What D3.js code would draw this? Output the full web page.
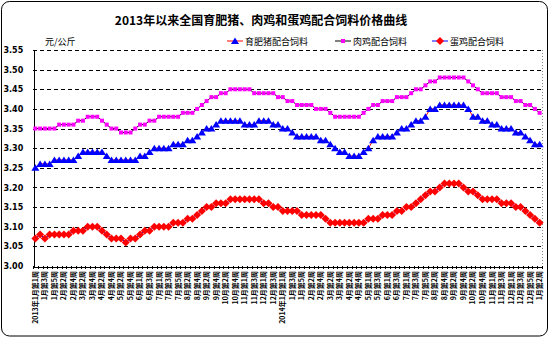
<!DOCTYPE html>
<html><head><meta charset="utf-8">
<script src="https://cdn.jsdelivr.net/npm/d3@7"></script>
<style>body{margin:0;background:#fff}svg{display:block}</style>
</head><body>
<svg id="chart" width="550" height="341"></svg>
<script>
// Weekly calendar: [year, month, number of weeks reported in that month]
const weekCalendar = [
  [2013,1,5],[2013,2,4],[2013,3,4],[2013,4,4],[2013,5,5],[2013,6,4],
  [2013,7,5],[2013,8,4],[2013,9,4],[2013,10,5],[2013,11,4],[2013,12,4],
  [2014,1,5],[2014,2,4],[2014,3,4],[2014,4,5],[2014,5,4],[2014,6,4],
  [2014,7,5],[2014,8,4],[2014,9,4],[2014,10,5],[2014,11,4],[2014,12,5],
  [2015,1,2]
];

const yTicks = [3.00,3.05,3.10,3.15,3.20,3.25,3.30,3.35,3.40,3.45,3.50,3.55];

// 育肥猪配合饲料 (元/公斤)
const pigFeed = [
  3.25,3.26,3.26,3.26,3.27,3.27,3.27,3.27,3.27,3.28,
  3.29,3.29,3.29,3.29,3.29,3.28,3.27,3.27,3.27,3.27,
  3.27,3.27,3.28,3.28,3.29,3.30,3.30,3.30,3.30,3.31,
  3.31,3.31,3.32,3.32,3.33,3.34,3.35,3.35,3.36,3.37,
  3.37,3.37,3.37,3.37,3.36,3.36,3.36,3.37,3.37,3.37,
  3.36,3.36,3.35,3.35,3.34,3.33,3.33,3.33,3.33,3.33,
  3.32,3.32,3.31,3.30,3.29,3.29,3.28,3.28,3.28,3.29,
  3.30,3.32,3.33,3.33,3.33,3.33,3.34,3.35,3.35,3.36,
  3.37,3.37,3.38,3.40,3.40,3.41,3.41,3.41,3.41,3.41,
  3.41,3.40,3.38,3.38,3.37,3.37,3.36,3.36,3.35,3.35,
  3.35,3.34,3.34,3.33,3.32,3.31,3.31
];

// 肉鸡配合饲料 (元/公斤)
const broilerFeed = [
  3.35,3.35,3.35,3.35,3.35,3.36,3.36,3.36,3.36,3.37,
  3.37,3.38,3.38,3.38,3.37,3.36,3.35,3.35,3.34,3.34,
  3.34,3.35,3.36,3.36,3.37,3.37,3.38,3.38,3.38,3.38,
  3.38,3.39,3.39,3.39,3.40,3.41,3.42,3.43,3.43,3.44,
  3.44,3.45,3.45,3.45,3.45,3.45,3.44,3.44,3.44,3.44,
  3.44,3.43,3.43,3.42,3.42,3.41,3.41,3.41,3.41,3.40,
  3.40,3.40,3.39,3.38,3.38,3.38,3.38,3.38,3.38,3.39,
  3.40,3.41,3.41,3.42,3.42,3.42,3.43,3.43,3.43,3.44,
  3.45,3.45,3.46,3.47,3.47,3.48,3.48,3.48,3.48,3.48,
  3.48,3.47,3.46,3.45,3.44,3.44,3.44,3.44,3.43,3.43,
  3.43,3.42,3.42,3.41,3.41,3.40,3.39
];

// 蛋鸡配合饲料 (元/公斤)
const layerFeed = [
  3.07,3.08,3.07,3.08,3.08,3.08,3.08,3.08,3.09,3.09,
  3.09,3.10,3.10,3.10,3.09,3.08,3.07,3.07,3.07,3.06,
  3.07,3.07,3.08,3.09,3.09,3.10,3.10,3.10,3.10,3.11,
  3.11,3.11,3.12,3.12,3.13,3.14,3.15,3.15,3.16,3.16,
  3.16,3.17,3.17,3.17,3.17,3.17,3.17,3.17,3.16,3.16,
  3.15,3.15,3.14,3.14,3.14,3.14,3.13,3.13,3.13,3.13,
  3.13,3.12,3.11,3.11,3.11,3.11,3.11,3.11,3.11,3.11,
  3.12,3.12,3.12,3.13,3.13,3.13,3.14,3.14,3.15,3.15,
  3.16,3.17,3.18,3.19,3.19,3.20,3.21,3.21,3.21,3.21,
  3.20,3.19,3.19,3.18,3.17,3.17,3.17,3.17,3.16,3.16,
  3.16,3.15,3.15,3.14,3.13,3.12,3.11
];

// Build the week labels, e.g. "2013年1月第1周", "1月第3周"
const weekLabels = [];
weekCalendar.forEach(([yr, mo, n]) => {
  for (let w = 1; w <= n; w++) {
    const first = mo === 1 && w === 1 || (weekLabels.length === 0);
    weekLabels.push((first ? yr + "年" : "") + mo + "月第" + w + "周");
  }
});

const series = [
  {name: "育肥猪配合饲料", values: pigFeed, line: "#ff0000", fill: "#0000ff", shape: "triangle"},
  {name: "肉鸡配合饲料", values: broilerFeed, line: "#000000", fill: "#ff00ff", shape: "square"},
  {name: "蛋鸡配合饲料", values: layerFeed, line: "#0000ff", fill: "#ff0000", shape: "diamond"}
];

const CJK = "'Noto Sans CJK SC', 'Noto Sans', sans-serif";
const svg = d3.select("#chart");
const plot = {left: 33, right: 542, top: 50, bottom: 266};

const x = d3.scaleBand().domain(d3.range(weekLabels.length)).range([plot.left, plot.right]);
const xc = i => x(i) + x.bandwidth() / 2;
const y = d3.scaleLinear().domain([3.00, 3.55]).range([plot.bottom, plot.top]);

// outer frame
svg.append("rect").attr("x", 1.5).attr("y", 1.5).attr("width", 546).attr("height", 334.5)
  .attr("rx", 8).attr("fill", "#fff").attr("stroke", "#000").attr("stroke-width", 1);

// title
svg.append("text").attr("x", 261).attr("y", 25).attr("text-anchor", "middle")
  .attr("font-family", CJK).attr("font-size", 12).attr("font-weight", "bold")
  .text("2013年以来全国育肥猪、肉鸡和蛋鸡配合饲料价格曲线");

// unit
svg.append("text").attr("x", 45).attr("y", 45)
  .attr("font-family", CJK).attr("font-size", 9).text("元/公斤");

// horizontal gridlines
svg.append("g").selectAll("line").data(yTicks.slice(1)).join("line")
  .attr("x1", plot.left).attr("x2", plot.right)
  .attr("y1", d => Math.round(y(d)) + 0.5).attr("y2", d => Math.round(y(d)) + 0.5)
  .attr("stroke", "#000").attr("stroke-dasharray", "4,3").attr("shape-rendering", "crispEdges");

// right border dotted
svg.append("line").attr("x1", plot.right + 0.5).attr("x2", plot.right + 0.5)
  .attr("y1", plot.top).attr("y2", plot.bottom)
  .attr("stroke", "#888").attr("stroke-dasharray", "1,2").attr("shape-rendering", "crispEdges");

// y axis
const yAxis = d3.axisLeft(y).tickValues(yTicks).tickSize(0).tickFormat(d3.format(".2f"));
const gy = svg.append("g").attr("transform", `translate(${plot.left + 0.5},0)`).call(yAxis);
gy.select(".domain").attr("stroke", "#000").attr("shape-rendering", "crispEdges");
gy.selectAll("text").attr("x", -30).attr("text-anchor", "start")
  .attr("font-family", "'DejaVu Sans', sans-serif").attr("font-size", 8).attr("font-weight", "bold");

// x axis: a tick between every week, labels on every second week
const xAxis = d3.axisBottom(x).tickSize(0).tickFormat("");
const gx = svg.append("g").attr("transform", `translate(0,${plot.bottom + 0.5})`).call(xAxis);
gx.select(".domain").attr("stroke", "#000").attr("shape-rendering", "crispEdges");
svg.append("g").selectAll("line").data(d3.range(weekLabels.length + 1)).join("line")
  .attr("x1", i => Math.round(plot.left + i * x.bandwidth()) + 0.5)
  .attr("x2", i => Math.round(plot.left + i * x.bandwidth()) + 0.5)
  .attr("y1", plot.bottom).attr("y2", plot.bottom + 3)
  .attr("stroke", "#000").attr("shape-rendering", "crispEdges");
svg.append("g").selectAll("text").data(weekLabels.map((t, i) => ({t, i})).filter(d => d.i % 2 === 0))
  .join("text")
  .attr("transform", d => `translate(${xc(d.i)},${plot.bottom + 5}) rotate(-90)`)
  .attr("text-anchor", "end").attr("dy", "0.35em")
  .attr("font-family", CJK).attr("font-size", 7).attr("font-weight", "bold")
  .text(d => d.t);

// marker shapes
function markerPath(shape) {
  if (shape === "triangle") return "M0,-3.5L4,3L-4,3Z";
  if (shape === "diamond") return "M0,-4L4,0L0,4L-4,0Z";
  return "M-2,-2L2,-2L2,2L-2,2Z";
}

const line = d3.line().x((d, i) => xc(i)).y(d => y(d));
series.forEach(s => {
  svg.append("path").datum(s.values).attr("d", line)
    .attr("fill", "none").attr("stroke", s.line).attr("stroke-width", 1);
  svg.append("g").selectAll("path").data(s.values).join("path")
    .attr("transform", (d, i) => `translate(${xc(i)},${y(d)})`)
    .attr("d", markerPath(s.shape)).attr("fill", s.fill);
});

// legend
const legendX = [227, 335, 432];
series.forEach((s, k) => {
  const g = svg.append("g").attr("transform", `translate(${legendX[k]},41)`);
  g.append("line").attr("x1", 0).attr("x2", 16).attr("stroke", s.line);
  g.append("path").attr("transform", "translate(8,0)").attr("d", markerPath(s.shape)).attr("fill", s.fill);
  g.append("text").attr("x", 18).attr("y", 3.5)
    .attr("font-family", CJK).attr("font-size", 9).text(s.name);
});
</script>
</body></html>
